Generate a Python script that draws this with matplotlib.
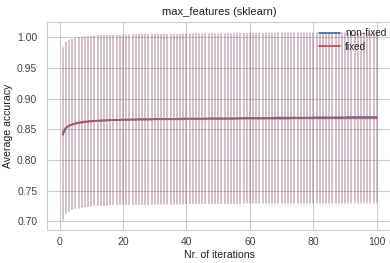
import matplotlib
matplotlib.use("Agg")
import matplotlib.pyplot as plt
from matplotlib.lines import Line2D
import seaborn as sns

# iterations 1..100
iterations = list(range(1, 101))

# mean accuracy, non-fixed
mean_nonfixed = [
    0.841, 0.852, 0.856, 0.858, 0.860, 0.861, 0.862, 0.8625, 0.863, 0.8635,
    0.864, 0.864, 0.8645, 0.8645, 0.865, 0.865, 0.8655, 0.8655, 0.8655, 0.866,
    0.866, 0.866, 0.866, 0.866, 0.8665, 0.8665, 0.8665, 0.8665, 0.8665, 0.867,
    0.867, 0.867, 0.867, 0.867, 0.867, 0.867, 0.867, 0.867, 0.8675, 0.8675,
    0.8675, 0.8675, 0.8675, 0.8675, 0.8675, 0.8675, 0.868, 0.868, 0.868, 0.868,
    0.868, 0.868, 0.868, 0.868, 0.868, 0.868, 0.868, 0.8685, 0.8685, 0.8685,
    0.8685, 0.8685, 0.8685, 0.8685, 0.8685, 0.8685, 0.8685, 0.869, 0.869, 0.869,
    0.869, 0.869, 0.869, 0.869, 0.869, 0.869, 0.869, 0.869, 0.869, 0.8695,
    0.8695, 0.8695, 0.8695, 0.8695, 0.8695, 0.8695, 0.8695, 0.8695, 0.8695, 0.8695,
    0.870, 0.870, 0.870, 0.870, 0.870, 0.870, 0.870, 0.870, 0.870, 0.870,
]

# mean accuracy, fixed
mean_fixed = [
    0.845, 0.853, 0.856, 0.858, 0.859, 0.860, 0.861, 0.862, 0.8625, 0.863,
    0.8635, 0.864, 0.864, 0.8645, 0.8645, 0.865, 0.865, 0.865, 0.8655, 0.8655,
    0.8655, 0.8655, 0.866, 0.866, 0.866, 0.866, 0.866, 0.866, 0.866, 0.8665,
    0.8665, 0.8665, 0.8665, 0.8665, 0.8665, 0.8665, 0.8665, 0.8665, 0.8665, 0.867,
    0.867, 0.867, 0.867, 0.867, 0.867, 0.867, 0.867, 0.867, 0.867, 0.867,
    0.867, 0.867, 0.867, 0.867, 0.867, 0.8675, 0.8675, 0.8675, 0.8675, 0.8675,
    0.8675, 0.8675, 0.8675, 0.8675, 0.8675, 0.8675, 0.8675, 0.8675, 0.8675, 0.8675,
    0.8675, 0.8675, 0.868, 0.868, 0.868, 0.868, 0.868, 0.868, 0.868, 0.868,
    0.868, 0.868, 0.868, 0.868, 0.868, 0.868, 0.868, 0.868, 0.868, 0.868,
    0.868, 0.868, 0.868, 0.868, 0.868, 0.868, 0.868, 0.868, 0.868, 0.868,
]

# standard deviation (error bars)
std_nonfixed = [0.142, 0.141, 0.140, 0.1395, 0.139, 0.139, 0.139, 0.139, 0.139, 0.139] + [0.139] * 90
std_fixed = [0.141, 0.140, 0.140, 0.1395, 0.139, 0.139, 0.139, 0.139, 0.139, 0.139] + [0.139] * 90

blue = "#4c72b0"
red = "#c44e52"

sns.set_style("whitegrid")
plt.rcParams["font.family"] = ["Liberation Sans", "DejaVu Sans"]

fig = plt.figure(figsize=(3.9, 2.63), dpi=100)
ax = fig.add_axes([0.1205, 0.1255, 0.886, 0.7909])

ax.errorbar(iterations, mean_nonfixed, yerr=std_nonfixed, color=blue,
            ecolor=(0.30, 0.45, 0.69, 0.22), elinewidth=1.3, lw=1.3)
ax.errorbar(iterations, mean_fixed, yerr=std_fixed, color=(0.77, 0.31, 0.32, 0.85),
            ecolor=(0.77, 0.31, 0.32, 0.25), elinewidth=1.3, lw=1.3)

ax.set_xlim(-3.95, 104.95)
ax.set_ylim(0.686, 1.025)
ax.set_yticks([0.70, 0.75, 0.80, 0.85, 0.90, 0.95, 1.00])
ax.tick_params(labelsize=7.5, colors="#444444")
ax.tick_params(axis="x", pad=1.5)
ax.tick_params(axis="y", pad=3.5)
for s in ax.spines.values():
    s.set_color("#cccccc")

ax.set_title("max_features (sklearn)", fontsize=8, color="#222222", pad=5)
ax.set_xlabel("Nr. of iterations", fontsize=7.6, color="#222222", labelpad=2)
ax.set_ylabel("Average accuracy", fontsize=7.6, color="#222222")
ax.yaxis.set_label_coords(-0.098, 0.5)

handles = [Line2D([], [], color=blue, lw=1.3), Line2D([], [], color=red, lw=1.3)]
fig.legend(handles, ["non-fixed", "fixed"], loc="upper left",
           bbox_to_anchor=(319 / 390, 1 - 28 / 263), frameon=False,
           fontsize=7.2, handlelength=2.1, borderpad=0, borderaxespad=0,
           labelspacing=0.35, handletextpad=0.5)

fig.savefig("out.png", dpi=100)
